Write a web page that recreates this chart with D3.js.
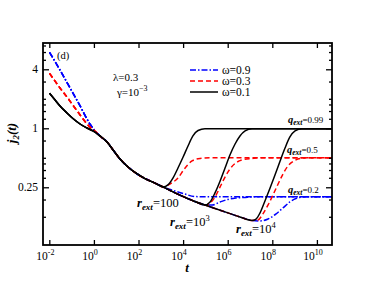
<!DOCTYPE html>
<html>
<head>
<meta charset="utf-8">
<script src="https://cdn.jsdelivr.net/npm/d3@7"></script>
<style>
  body { margin: 0; background: #fff; }
  svg, svg text { font-family: "Liberation Serif", "Times New Roman", serif; }
</style>
</head>
<body>
<script>
// values: [log10 t, j2]
const omegas = ['0.9', '0.3', '0.1'];
const colors = ['#0000ff', '#ff0000', '#000000'];
const dashes = ['6,2,1.5,2', '5,3', null];

// short-time part, one per omega
const early = [
    [[-1.99, 5.96], [-1.52, 3.93], [-1.07, 2.58], [-0.62, 1.69], [-0.18, 1.106], [0.05, 0.939]],
    [[-1.99, 3.64], [-1.52, 2.58], [-1.21, 2.087], [-0.85, 1.611], [-0.62, 1.367], [-0.18, 1.031], [0.09, 0.917]],
    [[-1.99, 2.276], [-1.74, 1.944], [-1.52, 1.689], [-1.21, 1.433], [-0.94, 1.259], [-0.62, 1.106], [-0.31, 1.007], [-0.04, 0.939]]
];

// common decay shared by all curves
const trunk = [[0.27, 0.835], [0.59, 0.725], [0.86, 0.600], [1.17, 0.486], [1.48, 0.412], [1.84, 0.354],
    [2.29, 0.307], [2.74, 0.276], [3.10, 0.252], [3.64, 0.219], [4.09, 0.197], [4.53, 0.179],
    [4.98, 0.165], [5.43, 0.152], [6.01, 0.137], [6.55, 0.1245], [7.09, 0.1147]];

const rExt = ['100', '10^3', '10^4'];
const bendAt = [3.10, 4.98, 7.09];
const qExt = ['0.2', '0.5', '0.99'];
const plateau = [0.2, 0.5, 0.99];

// rise after the bend, per omega then per r_ext
const branch = [
    [
        [[3.64, 0.229], [4.09, 0.213], [4.53, 0.201], [5.21, 0.2]],
        [[5.30, 0.165], [5.66, 0.177], [6.01, 0.188], [6.37, 0.194], [6.78, 0.197], [7.31, 0.2]],
        [[7.45, 0.1133], [7.81, 0.1186], [8.17, 0.134], [8.48, 0.154], [8.79, 0.177], [9.06, 0.192], [9.47, 0.2]]
    ],
    [
        [[3.41, 0.270], [3.77, 0.311], [4.09, 0.394], [4.40, 0.464], [4.76, 0.492], [5.21, 0.5]],
        [[5.21, 0.173], [5.43, 0.199], [5.66, 0.252], [5.88, 0.318], [6.10, 0.384], [6.33, 0.437], [6.64, 0.475], [7.09, 0.492], [7.4, 0.5]],
        [[7.36, 0.116], [7.58, 0.134], [7.81, 0.165], [8.03, 0.209], [8.26, 0.270], [8.48, 0.342], [8.70, 0.412], [8.97, 0.464], [9.24, 0.492], [9.6, 0.5]]
    ],
    [
        [[3.32, 0.2645], [3.55, 0.311], [3.77, 0.393], [4.00, 0.509], [4.22, 0.660], [4.44, 0.835], [4.67, 0.950], [4.98, 0.99]],
        [[5.21, 0.177], [5.43, 0.219], [5.66, 0.290], [5.88, 0.393], [6.10, 0.534], [6.33, 0.691], [6.55, 0.835], [6.78, 0.939], [7.09, 0.99]],
        [[7.27, 0.1186], [7.45, 0.137], [7.67, 0.181], [7.90, 0.246], [8.12, 0.334], [8.35, 0.464], [8.57, 0.629], [8.79, 0.815], [9.02, 0.939], [9.33, 0.99]]
    ]
];

const xTicks = [-2, 0, 2, 4, 6, 8, 10];
const yMajor = [0.25, 1, 4];
const yMinor = [0.125, 0.1875, 0.3125, 0.375, 0.4375, 0.5, 0.75, 1.25, 1.5, 1.75, 2, 3, 5, 6, 7];

const W = 374, H = 289;
const m = {left: 43, top: 43, right: 332, bottom: 245};

const x = d3.scaleLog().domain([10 ** -2.283, 10 ** 10.677]).range([m.left, m.right]);
const y = d3.scaleLog().base(2).domain([0.0644, 7.42]).range([m.bottom, m.top]);

const svg = d3.select('body').append('svg').attr('width', W).attr('height', H)
    .attr('font-family', '"Liberation Serif", "Times New Roman", serif');

svg.append('clipPath').attr('id', 'clip').append('rect')
    .attr('x', m.left).attr('y', m.top).attr('width', m.right - m.left).attr('height', m.bottom - m.top);

const line = d3.line()
    .x(d => x(10 ** d[0]))
    .y(d => y(d[1]))
    .curve(d3.curveMonotoneX);

const plot = svg.append('g').attr('clip-path', 'url(#clip)');

[0, 1, 2].forEach(w => {
    rExt.forEach((r, k) => {
        let pts = early[w].concat(trunk.filter(p => p[0] <= bendAt[k] + 0.001));
        pts = pts.concat(branch[w][k]);
        pts.push([10.8, plateau[w]]);
        plot.append('path')
            .attr('d', line(pts))
            .attr('fill', 'none')
            .attr('stroke', colors[w])
            .attr('stroke-width', 1.5)
            .attr('stroke-dasharray', dashes[w]);
    });
});

// axes, ticks pointing inward
const tv = xTicks.map(e => 10 ** e);
svg.append('g').attr('transform', `translate(0,${m.bottom})`)
    .call(d3.axisBottom(x).tickValues(tv).tickSize(-5).tickFormat(''));
svg.append('g').attr('transform', `translate(0,${m.top})`)
    .call(d3.axisTop(x).tickValues(tv).tickSize(-5).tickFormat(''));
svg.append('g').attr('transform', `translate(${m.left},0)`)
    .call(d3.axisLeft(y).tickValues(yMajor).tickSize(-6).tickFormat(''));
svg.append('g').attr('transform', `translate(${m.right},0)`)
    .call(d3.axisRight(y).tickValues(yMajor).tickSize(-6).tickFormat(''));
svg.append('g').attr('transform', `translate(${m.left},0)`)
    .call(d3.axisLeft(y).tickValues(yMinor).tickSize(-3).tickFormat(''));
svg.append('g').attr('transform', `translate(${m.right},0)`)
    .call(d3.axisRight(y).tickValues(yMinor).tickSize(-3).tickFormat(''));

svg.selectAll('.domain').remove();
svg.selectAll('.tick line').attr('stroke', '#000').attr('stroke-width', 1.3);

svg.append('rect')
    .attr('x', m.left).attr('y', m.top).attr('width', m.right - m.left).attr('height', m.bottom - m.top)
    .attr('fill', 'none').attr('stroke', '#000').attr('stroke-width', 1.8);

// tick labels
xTicks.forEach(e => {
    const t = svg.append('text').attr('x', x(10 ** e) - 4).attr('y', 260)
        .attr('text-anchor', 'middle').attr('font-size', 11.5);
    t.append('tspan').text('10');
    t.append('tspan').attr('dy', -5).attr('font-size', 8).text(e);
});
yMajor.forEach(v => {
    svg.append('text').attr('x', 38).attr('y', y(v) + 4)
        .attr('text-anchor', 'end').attr('font-size', 11.5).text(v);
});

// axis titles
svg.append('text').attr('x', 187).attr('y', 272).attr('text-anchor', 'middle')
    .attr('font-size', 13).attr('font-weight', 'bold').attr('font-style', 'italic').text('t');
const yt = svg.append('text').attr('transform', 'translate(16,133) rotate(-90)')
    .attr('text-anchor', 'middle').attr('font-size', 13).attr('font-weight', 'bold').attr('font-style', 'italic');
yt.append('tspan').text('j');
yt.append('tspan').attr('font-size', 9).attr('dy', 3).text('2');
yt.append('tspan').attr('dy', -3).text('(t)');

// panel annotations
svg.append('text').attr('x', 57).attr('y', 59).attr('font-size', 10.5).text('(d)');
svg.append('text').attr('x', 113).attr('y', 81).attr('font-size', 11).text('λ=0.3');
const g = svg.append('text').attr('x', 117).attr('y', 96).attr('font-size', 11);
g.append('tspan').text('γ=10');
g.append('tspan').attr('dy', -5).attr('font-size', 8).text('−3');

// legend
omegas.forEach((o, i) => {
    const ly = 70 + i * 11;
    svg.append('line').attr('x1', 190).attr('x2', 218).attr('y1', ly).attr('y2', ly)
        .attr('stroke', colors[i]).attr('stroke-width', 1.5).attr('stroke-dasharray', dashes[i]);
    svg.append('text').attr('x', 222).attr('y', ly + 4).attr('font-size', 11.5).text('ω=' + o);
});

// q_ext labels
const qPos = [[288, 193], [287, 153], [288, 123]];
qExt.forEach((q, i) => {
    const t = svg.append('text').attr('x', qPos[i][0]).attr('y', qPos[i][1]).attr('font-size', 9);
    t.append('tspan').attr('font-weight', 'bold').attr('font-style', 'italic').attr('font-size', 10.5).text('q');
    t.append('tspan').attr('font-weight', 'bold').attr('font-style', 'italic').attr('font-size', 7.5).attr('dy', 2).text('ext');
    t.append('tspan').attr('dy', -2).text('=' + q);
});

// r_ext labels
const rPos = [[137, 207], [170, 226], [236, 233]];
rExt.forEach((r, i) => {
    const t = svg.append('text').attr('x', rPos[i][0]).attr('y', rPos[i][1]).attr('font-size', 12.5);
    t.append('tspan').attr('font-weight', 'bold').attr('font-style', 'italic').text('r');
    t.append('tspan').attr('font-weight', 'bold').attr('font-style', 'italic').attr('font-size', 9).attr('dy', 3).text('ext');
    const parts = r.split('^');
    t.append('tspan').attr('dy', -3).text('=' + parts[0]);
    if (parts[1]) t.append('tspan').attr('dy', -5).attr('font-size', 8.5).text(parts[1]);
});
</script>
</body>
</html>
